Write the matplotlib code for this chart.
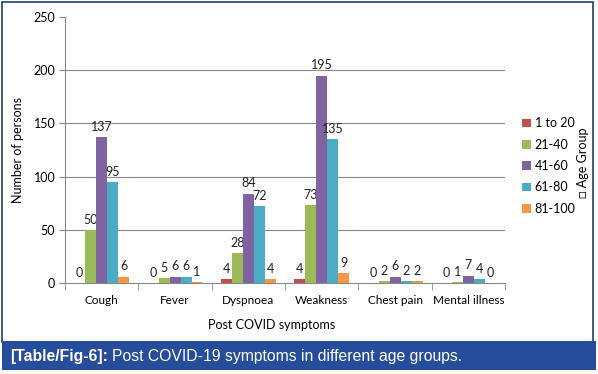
import matplotlib
matplotlib.use("Agg")
import matplotlib.pyplot as plt
import numpy as np
from matplotlib.patches import Rectangle

symptoms = ["Cough", "Fever", "Dyspnoea", "Weakness", "Chest pain", "Mental illness"]
age_groups = ["1 to 20", "21-40", "41-60", "61-80", "81-100"]
g1_20 = [0, 0, 4, 4, 0, 0]
g21_40 = [50, 5, 28, 73, 2, 1]
g41_60 = [137, 6, 84, 195, 6, 7]
g61_80 = [95, 6, 72, 135, 2, 4]
g81_100 = [6, 1, 4, 9, 2, 0]
series = [g1_20, g21_40, g41_60, g61_80, g81_100]
colors = ["#C0504D", "#9BBB59", "#8064A2", "#4BACC6", "#F79646"]

plt.rcParams['font.family'] = ['Lato', 'DejaVu Sans']

W, H = 598, 374
fig = plt.figure(figsize=(W / 100, H / 100), dpi=100)

# outer frame and caption bar
fig.patches.append(Rectangle((2 / W, 1 - 342 / H), 591 / W, 340 / H, transform=fig.transFigure,
                             facecolor="none", edgecolor="#1F3F6E", linewidth=1.2, zorder=-1))
fig.patches.append(Rectangle((2 / W, 1 - 370 / H), 594 / W, 29 / H, transform=fig.transFigure,
                             facecolor="#264D9B", edgecolor="none", zorder=1))

ax = fig.add_axes([65 / W, 1 - 283 / H, 440 / W, 266 / H])
ax.set_facecolor("none")

x = np.arange(len(symptoms))
bw = 0.75 / 5
for i in range(5):
    bars = ax.bar(x - 0.375 + bw * (i + 0.5), series[i], width=bw, color=colors[i],
                  label=age_groups[i], zorder=3)
    ax.bar_label(bars, padding=3, fontsize=9, color="#222222")

ax.set_ylim(0, 250)
ax.set_xlim(-0.5, len(symptoms) - 0.5)
ax.set_yticks([0, 50, 100, 150, 200, 250])
ax.set_yticklabels(["0", "50", "100", "150", "200", "250"], fontsize=9)
ax.set_xticks(x)
ax.set_xticklabels(symptoms, fontsize=8.5)
ax.set_xticks(np.arange(-0.5, len(symptoms)), minor=True)
ax.tick_params(axis="x", which="major", length=0, pad=9)
ax.tick_params(axis="x", which="minor", length=5, color="#888888")
ax.tick_params(axis="y", length=4, color="#888888", pad=3)
for y in [50, 100, 150, 200]:
    ax.axhline(y, color="#888888", linewidth=0.8, zorder=1)
for s in ["top", "right"]:
    ax.spines[s].set_visible(False)
for s in ["left", "bottom"]:
    ax.spines[s].set_color("#888888")
    ax.spines[s].set_linewidth(0.8)

fig.text(18 / W, 1 - 150 / H, "Number of persons", rotation=90, ha="center", va="center", fontsize=9)
fig.text(272 / W, 1 - 325 / H, "Post COVID symptoms", ha="center", va="center", fontsize=9)

leg = ax.legend(loc="upper left", bbox_to_anchor=(516 / W, 1 - 111 / H), bbox_transform=fig.transFigure,
                frameon=False, fontsize=9, handlelength=0.7, handleheight=0.7, handletextpad=0.3,
                labelspacing=0.75, borderpad=0)
fig.text(583 / W, 1 - 163 / H, "\u25A1 Age Group", rotation=90, ha="center", va="center", fontsize=9)

# caption
cap_y = 1 - 356 / H
t1 = fig.text(10 / W, cap_y, "[Table/Fig-6]:", ha="left", va="center", fontsize=11.3,
              color="white", fontweight="bold", family="Liberation Sans")
fig.canvas.draw()
bb = t1.get_window_extent(fig.canvas.get_renderer())
fig.text(bb.x1 / W + 4 / W, cap_y, "Post COVID-19 symptoms in different age groups.", ha="left",
         va="center", fontsize=11.3, color="white", family="Liberation Sans")

fig.savefig("out.png", dpi=100)
